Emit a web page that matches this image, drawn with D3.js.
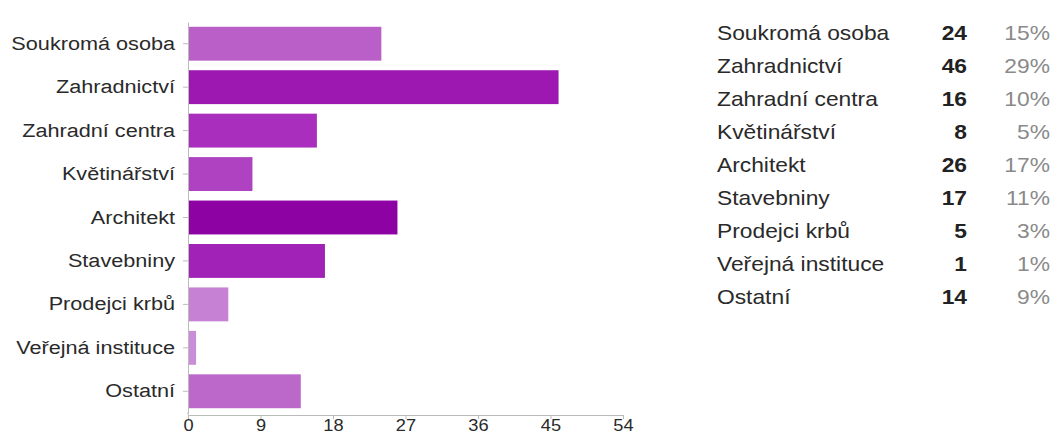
<!DOCTYPE html>
<html>
<head>
<meta charset="utf-8">
<script src="https://cdn.jsdelivr.net/npm/d3@7"></script>
<style>
  body { margin: 0; background: #fff; }
  svg text { font-family: "Liberation Sans", Arial, sans-serif; }
</style>
</head>
<body>
<div id="chart"></div>
<script>
// Data
const categories = ["Soukromá osoba", "Zahradnictví", "Zahradní centra", "Květinářství",
    "Architekt", "Stavebniny", "Prodejci krbů", "Veřejná instituce", "Ostatní"];
const counts = [24, 46, 16, 8, 26, 17, 5, 1, 14];
const percents = ["15%", "29%", "10%", "5%", "17%", "11%", "3%", "1%", "9%"];
const xTicks = [0, 9, 18, 27, 36, 45, 54];

// Bar colours (one shade per category)
const barColors = ["#b95fc7", "#9c18b0", "#a92ebd", "#ae42c1", "#8d02a2",
    "#a122b6", "#c680d4", "#ca8dd7", "#bc68cb"];

const width = 1053;
const height = 435;
const stretch = 1.14; // the source image is a little wider than tall

const svg = d3.select("#chart").append("svg")
    .attr("width", width)
    .attr("height", height);

const xScale = d3.scaleLinear()
    .domain([0, 54])
    .range([188, 623]);

const yScale = d3.scaleBand()
    .domain(categories)
    .range([22, 413])
    .paddingInner(0.22)
    .paddingOuter(0.11);

// Bars
svg.selectAll("rect.bar")
    .data(categories)
    .enter()
    .append("rect")
    .attr("class", "bar")
    .attr("x", xScale(0))
    .attr("y", d => yScale(d))
    .attr("width", (d, i) => xScale(counts[i]) - xScale(0))
    .attr("height", yScale.bandwidth())
    .attr("fill", (d, i) => barColors[i]);

// Left axis with category labels
const yAxis = svg.append("g")
    .attr("transform", `translate(${xScale(0)},0)`)
    .call(d3.axisLeft(yScale).tickSize(5).tickSizeOuter(0).tickPadding(8));
yAxis.select(".domain").attr("stroke", "#bbb");
yAxis.selectAll(".tick line").attr("stroke", "#bbb");
yAxis.selectAll(".tick text")
    .attr("fill", "#2a2a2a")
    .attr("font-size", 19)
    .attr("x", -13 / stretch)
    .attr("transform", `scale(${stretch},1)`);

// Bottom axis
const xAxis = svg.append("g")
    .attr("transform", "translate(0,415)")
    .call(d3.axisBottom(xScale).tickValues(xTicks).tickSize(4).tickSizeOuter(0).tickPadding(1));
xAxis.select(".domain").attr("stroke", "#bbb");
xAxis.selectAll(".tick line").attr("stroke", "#bbb");
xAxis.selectAll(".tick text")
    .attr("fill", "#2a2a2a")
    .attr("font-size", 16)
    .attr("transform", `scale(${stretch},1)`);

// Extend the left axis line down to the bottom axis
svg.append("line")
    .attr("x1", xScale(0)).attr("x2", xScale(0))
    .attr("y1", 412).attr("y2", 415)
    .attr("stroke", "#bbb");

// Summary table on the right
const rowScale = d3.scalePoint()
    .domain(categories)
    .range([33, 297]);

const rows = svg.append("g").selectAll("g.row")
    .data(categories)
    .enter()
    .append("g")
    .attr("class", "row")
    .attr("transform", d => `translate(0,${rowScale(d)})`);

rows.append("text")
    .attr("x", 717 / stretch)
    .attr("dy", "0.35em")
    .attr("font-size", 20)
    .attr("fill", "#2a2a2a")
    .attr("transform", `scale(${stretch},1)`)
    .text(d => d);

rows.append("text")
    .attr("x", 967 / stretch)
    .attr("dy", "0.35em")
    .attr("text-anchor", "end")
    .attr("font-size", 20)
    .attr("font-weight", "bold")
    .attr("fill", "#222")
    .attr("transform", `scale(${stretch},1)`)
    .text((d, i) => counts[i]);

rows.append("text")
    .attr("x", 1050 / stretch)
    .attr("dy", "0.35em")
    .attr("text-anchor", "end")
    .attr("font-size", 20)
    .attr("fill", "#8a8a8a")
    .attr("transform", `scale(${stretch},1)`)
    .text((d, i) => percents[i]);
</script>
</body>
</html>
